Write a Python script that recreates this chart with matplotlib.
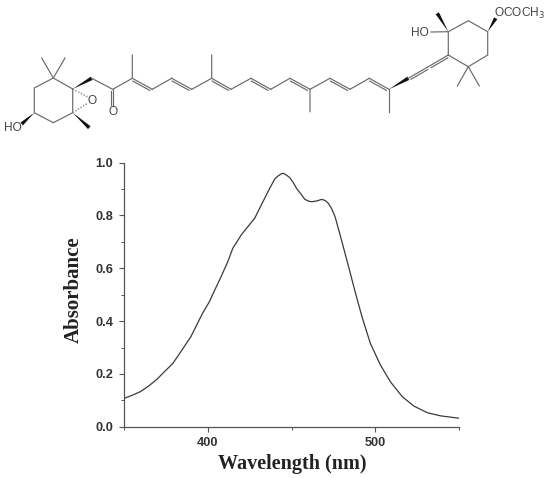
import matplotlib
matplotlib.use('Agg')
import matplotlib.pyplot as plt
from matplotlib.patches import Polygon

W, H = 550, 478

# spectrum
wavelength = [350, 355, 360, 365, 370, 374, 379, 382, 386, 390, 394, 397, 401, 403, 408, 412, 415,
              420, 424, 428, 432, 435, 437, 440, 442, 444, 445, 447, 449, 451, 453, 456, 458, 460,
              462, 465, 468, 470, 472, 474, 476, 479, 483, 488, 492, 497, 503, 509, 516, 523, 531,
              539, 550]
absorbance = [0.107, 0.119, 0.133, 0.155, 0.181, 0.207, 0.238, 0.265, 0.303, 0.341, 0.392, 0.430,
              0.473, 0.501, 0.568, 0.625, 0.676, 0.726, 0.758, 0.789, 0.840, 0.878, 0.903, 0.938,
              0.950, 0.958, 0.960, 0.953, 0.943, 0.925, 0.903, 0.878, 0.861, 0.855, 0.852, 0.855,
              0.861, 0.857, 0.846, 0.825, 0.795, 0.726, 0.631, 0.510, 0.417, 0.316, 0.234, 0.170,
              0.114, 0.078, 0.053, 0.041, 0.032]
x_ticks = [400, 500]
y_ticks = [0.0, 0.2, 0.4, 0.6, 0.8, 1.0]
y_tick_labels = ['0.0', '0.2', '0.4', '0.6', '0.8', '1.0']

# structure drawing, in image pixels
single_bonds = [
    [(72.7, 89), (53.3, 78), (34.3, 88), (34.3, 112.7), (53.3, 122.7), (72.7, 112.7), (72.7, 89)],
    [(41.7, 58), (53.3, 78), (65, 58)],
    [(91.7, 78.3), (112.7, 89.3), (132.3, 78.3), (132.3, 55)],
    [(152.3, 89.3), (171.7, 78.3)],
    [(191.7, 89.3), (211.7, 78.3), (211.7, 55)],
    [(231, 89.3), (251, 78.3)],
    [(270.7, 89.3), (290, 78.3)],
    [(310, 111.7), (310, 89.3), (330, 78.3)],
    [(350, 89.3), (369.3, 78.3)],
    [(389, 111.7), (389, 89.3)],
    [(448.3, 55), (448.3, 31.7), (468.3, 20.7), (487.7, 31.7), (487.7, 55), (468.3, 66.7), (448.3, 55)],
    [(457.3, 86), (468.3, 66.7), (479.3, 86)],
    [(431, 32), (448.3, 31.7)],
]
double_bonds = [
    ((132.3, 78.3), (152.3, 89.3)),
    ((171.7, 78.3), (191.7, 89.3)),
    ((211.7, 78.3), (231, 89.3)),
    ((251, 78.3), (270.7, 89.3)),
    ((290, 78.3), (310, 89.3)),
    ((330, 78.3), (350, 89.3)),
    ((369.3, 78.3), (389, 89.3)),
    ((408.3, 78.3), (428.3, 66.7)),
    ((428.3, 66.7), (448.3, 55)),
    ((112.7, 89.3), (112.7, 106)),
]
wedges = [
    ((34.3, 112.7), (21.7, 124)),
    ((72.7, 112.7), (89.3, 127.7)),
    ((72.7, 89), (91.7, 78.3)),
    ((389, 89.3), (408.3, 78.3)),
    ((448.3, 31.7), (437.3, 13.3)),
    ((487.7, 31.7), (495.7, 18.3)),
]
dashed = [((72.7, 89), (88, 97)), ((72.7, 112.7), (88, 103))]
atom_labels = [
    (4, 128, 'HO'), (92.5, 100.5, 'O'), (112.7, 112, 'O'), (411, 32.5, 'HO'), (494, 13, r'OCOCH$_3$'),
]

bond_col = '#6a6a6a'
text_col = '#444444'
ink = '#333333'

fig = plt.figure(figsize=(W / 100, H / 100), dpi=100)

ax = fig.add_axes([123.8 / W, 1 - 426.7 / H, (459.2 - 123.8) / W, 264 / H])
ax.plot(wavelength, absorbance, color='#3a3a3a', lw=0.9, solid_joinstyle='round')
ax.set_xlim(350, 550)
ax.set_ylim(0, 1)
ax.spines['top'].set_visible(False)
ax.spines['right'].set_visible(False)
ax.spines['left'].set_color('#555555')
ax.spines['bottom'].set_color('#555555')
ax.spines['left'].set_linewidth(0.9)
ax.spines['bottom'].set_linewidth(0.9)
ax.set_xticks(x_ticks)
ax.set_yticks(y_ticks)
ax.set_yticklabels(y_tick_labels)
ax.set_xticks([350, 450, 550], minor=True)
ax.set_yticks([0.1, 0.3, 0.5, 0.7, 0.9], minor=True)
ax.tick_params(which='major', length=3.5, width=0.8, color='#555555', pad=4)
ax.tick_params(which='minor', length=2, width=0.7, color='#555555')
for lab in ax.get_xticklabels() + ax.get_yticklabels():
    lab.set_family('Liberation Sans')
    lab.set_fontsize(9.2)
    lab.set_fontweight('bold')
    lab.set_color(ink)

fig.text(292.5 / W, 1 - 463.5 / H, 'Wavelength (nm)', family='Liberation Serif', fontweight='bold',
         fontsize=14.5, color='#222222', ha='center', va='center')
fig.text(74 / W, 1 - 289.5 / H, 'Absorbance', family='Liberation Serif', fontweight='bold',
         fontsize=15, color='#222222', ha='center', va='center', rotation=90)

# overlay in pixel coordinates for the structure
mol = fig.add_axes([0, 0, 1, 1])
mol.set_xlim(0, W)
mol.set_ylim(H, 0)
mol.axis('off')
mol.patch.set_alpha(0)

for chain in single_bonds:
    mol.plot([p[0] for p in chain], [p[1] for p in chain], color=bond_col, lw=0.85, solid_joinstyle='miter')

for a, b in double_bonds:
    mol.plot([a[0], b[0]], [a[1], b[1]], color=bond_col, lw=0.85)
    dx, dy = b[0] - a[0], b[1] - a[1]
    n = (dx * dx + dy * dy) ** 0.5
    ox, oy = -dy / n * 2.2, dx / n * 2.2
    mol.plot([a[0] + ox + dx * 0.08, b[0] + ox - dx * 0.08], [a[1] + oy + dy * 0.08, b[1] + oy - dy * 0.08],
             color=bond_col, lw=0.85)

for a, b in wedges:
    dx, dy = b[0] - a[0], b[1] - a[1]
    n = (dx * dx + dy * dy) ** 0.5
    ox, oy = -dy / n * 1.9, dx / n * 1.9
    mol.add_patch(Polygon([a, (b[0] + ox, b[1] + oy), (b[0] - ox, b[1] - oy)], closed=True, color='#111111', lw=0))

for a, b in dashed:
    mol.plot([a[0], b[0]], [a[1], b[1]], color='#888888', lw=1.0, ls=(0, (1, 1.2)))

for x, y, s in atom_labels:
    ha = 'center' if s == 'O' else 'left'
    mol.text(x, y, s, family='Liberation Sans', fontsize=8.6, color=text_col, ha=ha, va='center')

fig.savefig('out.png', dpi=100)
